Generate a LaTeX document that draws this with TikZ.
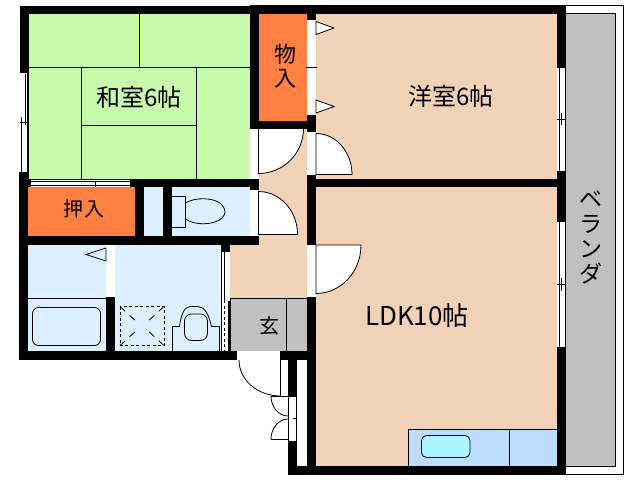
\documentclass[tikz,border=0pt]{standalone}
\usepackage{fontspec}
\setmainfont{Noto Sans CJK JP}
\definecolor{tatami}{RGB}{200,250,172}
\definecolor{flooring}{RGB}{242,210,182}
\definecolor{closet}{RGB}{255,128,64}
\definecolor{wetroom}{RGB}{221,240,255}
\definecolor{kitchen}{RGB}{188,221,255}
\definecolor{sinkbowl}{RGB}{170,245,255}
\definecolor{outdoor}{RGB}{192,192,192}
\tikzset{
    wall/.style={fill=black},
    opening/.style={fill=white},
    thinline/.style={draw=black,line width=0.8pt},
    doorleaf/.style={draw=black,fill=white,line width=0.8pt},
    roomlabel/.style={inner sep=0pt,text=black,font=\fontsize{24}{24}\selectfont},
    smalllabel/.style={inner sep=0pt,text=black,font=\fontsize{20}{20}\selectfont},
    stacklabel/.style={inner sep=0pt,text=black,font=\fontsize{22}{24}\selectfont,align=center},
}
\begin{document}
\begin{tikzpicture}[x=1pt,y=-1pt]
    \useasboundingbox (0,0) rectangle (638,480);
    % room floors
    \fill[tatami] (29,14) rectangle (250,179);
    \fill[flooring] (316,14) rectangle (557,179);
    \fill[flooring] (316,187) rectangle (557,466);
    \fill[flooring] (259,129) rectangle (307,245);
    \fill[flooring] (230,245) rectangle (307,298);
    \fill[closet] (259,14) rectangle (307,121);
    \fill[closet] (28,187) rectangle (135,236);
    \fill[wetroom] (144,187) rectangle (163,236);
    \fill[wetroom] (172,187) rectangle (250,236);
    \fill[wetroom] (28,245) rectangle (106,351);
    \fill[wetroom] (115,245) rectangle (221,351);
    % veranda
    \draw[thinline,fill=outdoor] (566,13.5) -- (615.5,13.5) -- (615.5,466) -- (566,466);
    \draw[thinline] (566,5.5) -- (623,5.5) -- (623,474.5) -- (566,474.5);
    % entrance
    \draw[thinline,fill=outdoor] (230,298) rectangle (307,351);
    \draw[thinline] (286.5,298) -- (286.5,351);
    % tatami joints
    \draw[thinline] (29,67.5) -- (250,67.5);
    \draw[thinline] (139.5,14) -- (139.5,67.5);
    \draw[thinline] (81.5,67.5) -- (81.5,179);
    \draw[thinline] (196.5,67.5) -- (196.5,179);
    \draw[thinline] (81.5,125.5) -- (196.5,125.5);
    % bath and toilet
    \draw[thinline] (28,298.5) -- (106,298.5);
    \draw[thinline,rounded corners=6pt] (32.5,307.5) rectangle (100.5,345.5);
    \draw[thinline] (86,254.5) -- (106,248) -- (106,261) -- cycle;
    \draw[thinline] (172,196.5) -- (185.5,196.5) -- (185.5,227.5) -- (172,227.5);
    \draw[thinline] (185.5,203) .. controls (195,197) and (215,197) .. (222,205)
        .. controls (226,210) and (226,214) .. (222,218)
        .. controls (215,225) and (195,226) .. (185.5,219);
    % drain
    \draw[thinline,dashed,dash pattern=on 3pt off 2.5pt] (120,306.5) rectangle (164,345.5);
    \draw[thinline,dash pattern=on 7pt off 6pt] (120,306.5) -- (138,323);
    \draw[thinline,dash pattern=on 7pt off 6pt] (164,306.5) -- (146,323);
    \draw[thinline,dash pattern=on 7pt off 6pt] (120,345.5) -- (138,329);
    \draw[thinline,dash pattern=on 7pt off 6pt] (164,345.5) -- (146,329);
    % wash basin
    \draw[thinline] (172.5,351) -- (172.5,326.5) -- (179.5,326.5)
        .. controls (181,315) and (184,307) .. (190,306.5) -- (198,306.5)
        .. controls (205,307) and (209,315) .. (211.5,326.5)
        -- (219.5,326.5) -- (219.5,351);
    \draw[thinline,rounded corners=7pt] (184.5,314) rectangle (207.5,340.5);
    % kitchen
    \draw[thinline,fill=kitchen] (408.5,429.5) rectangle (557,466);
    \draw[thinline] (509.5,429.5) -- (509.5,466);
    \draw[thinline,fill=sinkbowl,rounded corners=5pt] (421.5,435.5) rectangle (470,457.5);
    % walls
    \fill[wall] (20,6) rectangle (250,14);
    \fill[wall] (250,5) rectangle (566,14);
    \fill[wall] (20,6) rectangle (29,73);
    \fill[wall] (19,172) rectangle (28,360);
    \fill[wall] (27,73) rectangle (29,179);
    \fill[wall] (19,179) rectangle (259,187);
    \fill[wall] (250,14) rectangle (259,129);
    \fill[wall] (250,121) rectangle (316,129);
    \fill[wall] (307,14) rectangle (316,20);
    \fill[wall] (307,115) rectangle (316,132);
    \fill[wall] (307,175) rectangle (316,245);
    \fill[wall] (307,179) rectangle (557,187);
    \fill[wall] (557,14) rectangle (566,68);
    \fill[wall] (557,171) rectangle (566,222);
    \fill[wall] (557,347) rectangle (566,475);
    \fill[wall] (288,466) rectangle (566,475);
    \fill[wall] (135,187) rectangle (144,236);
    \fill[wall] (163,187) rectangle (172,236);
    \fill[wall] (19,236) rectangle (259,245);
    \fill[wall] (250,179) rectangle (259,190);
    \fill[wall] (106,297) rectangle (115,351);
    \fill[wall] (221,245) rectangle (230,252);
    \fill[wall] (19,351) rectangle (237,360);
    \fill[wall] (281,351) rectangle (316,360);
    \fill[wall] (307,297) rectangle (316,475);
    \fill[wall] (288,360) rectangle (297,396);
    \fill[wall] (288,441) rectangle (297,475);
    % windows and door openings
    \fill[opening] (20.5,73) rectangle (27,172);
    \draw[thinline] (21.7,117) -- (21.7,172);
    \draw[thinline] (25,74) -- (25,125);
    \draw[thinline] (20,122.5) -- (29,122.5);
    \fill[opening] (31,179.5) rectangle (130,187);
    \draw[thinline] (31,181.5) -- (130,181.5);
    \draw[thinline] (31,185) -- (130,185);
    \draw[thinline] (95,182) -- (95,187);
    \fill[opening] (557.5,68) rectangle (565.5,171);
    \draw[thinline] (559.5,68) -- (559.5,171);
    \draw[thinline] (565,68) -- (565,171);
    \draw[thinline] (557,119) -- (566,119);
    \draw[thinline] (561,113) -- (561,125);
    \fill[opening] (557.5,222) rectangle (565.5,347);
    \draw[thinline] (559.5,222) -- (559.5,347);
    \draw[thinline] (565,222) -- (565,347);
    \draw[thinline] (557,284) -- (566,284);
    \draw[thinline] (561,278) -- (561,291);
    \fill[opening] (250,129) rectangle (258,179);
    \fill[opening] (250,190) rectangle (258,235);
    \fill[opening] (307.5,20) rectangle (316,115);
    \draw[thinline] (306,67.5) -- (317,67.5);
    \fill[opening] (307.5,132) rectangle (315.5,175);
    \fill[opening] (307.5,245) rectangle (315.5,297);
    \fill[opening] (106.5,245) rectangle (114.5,297);
    \fill[opening] (221,252) rectangle (230,351);
    \draw[thinline] (221.7,252) -- (221.7,351);
    \draw[thinline] (224.3,252) -- (224.3,300);
    \draw[thinline,dashed,dash pattern=on 3pt off 2.5pt] (224.3,300) -- (224.3,351);
    \fill[wall] (227.5,301) rectangle (230,351);
    \fill[opening] (237,351) rectangle (281,358.5);
    \fill[opening] (297,360) rectangle (307,466);
    \fill[opening] (288,396) rectangle (297,441);
    \draw[thinline] (288.5,396) rectangle (296.5,441);
    \draw[thinline] (293,418.5) -- (296,418.5);
    % doors
    \draw[doorleaf] (258.5,128.5) -- (303.5,128.5) arc (0:90:45) -- cycle;
    \draw[doorleaf] (258.5,234.5) -- (297.5,234.5) arc (0:-90:39 and 43) -- cycle;
    \draw[doorleaf] (316,174.5) -- (352,174.5) arc (0:-90:36 and 41) -- cycle;
    \draw[doorleaf] (316,245) -- (361,245) arc (0:90:45 and 48.5) -- cycle;
    \draw[doorleaf] (316,21.5) -- (334,28) -- (316,34.5) -- cycle;
    \draw[doorleaf] (316,100) -- (334,106.5) -- (316,113) -- cycle;
    \draw[thinline] (280.5,351) -- (280.5,396);
    \draw[thinline] (239,360) arc (180:90:41.5 and 36);
    \draw[thinline] (271,396) -- (288,396);
    \draw[thinline] (271,396) arc (180:90:17 and 20);
    \draw[thinline] (271,439.5) -- (288,439.5);
    \draw[thinline] (271,439.5) arc (180:270:17 and 20.5);
    % labels
    \node[roomlabel] (washitsu) at (139,97) {和室6帖};
    \node[roomlabel] (youshitsu) at (451,96) {洋室6帖};
    \node[roomlabel,font=\fontsize{26}{26}\selectfont] (ldk) at (417,316) {LDK10帖};
    \node[stacklabel] (mono) at (285,66) {物\\入};
    \node[smalllabel] (oshiire) at (84,209) {押\hspace{2pt}入};
    \node[smalllabel] (genkan) at (269,326) {玄};
    \node[stacklabel,font=\fontsize{23}{25}\selectfont] (veranda) at (591,237) {ベ\\ラ\\ン\\ダ};
\end{tikzpicture}
\end{document}
